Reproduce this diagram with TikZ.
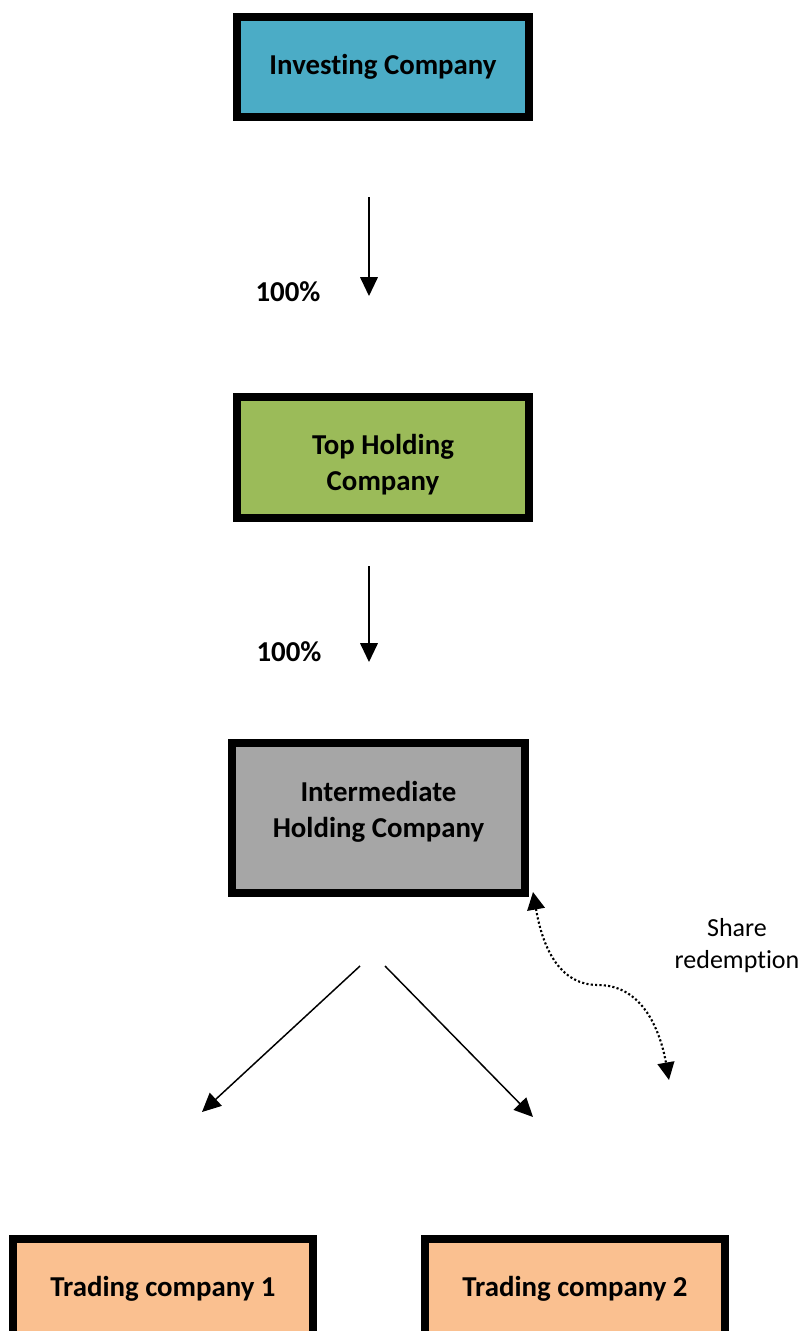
\documentclass[tikz,border=0pt]{standalone}
\usepackage{fontspec}
\setmainfont{Carlito}[Ligatures={NoCommon,NoContextual}, Contextuals=NoAlternate]
\usepackage{xcolor}
\usepackage{tikz}
\usetikzlibrary{arrows.meta,positioning}

\definecolor{investblue}{HTML}{4BACC6}
\definecolor{topgreen}{HTML}{9BBB59}
\definecolor{midgray}{HTML}{A6A6A6}
\definecolor{tradepeach}{HTML}{FAC090}

\begin{document}
\begin{tikzpicture}[
    x=0.025cm, y=-0.025cm,
    company/.style={rectangle, draw=black, line width=0.2cm, fill=#1, minimum width=7.3cm, minimum height=2.5cm, inner sep=0pt, font=\fontsize{20.5}{25.5}\selectfont\bfseries, align=center},
    company/.default=white,
    pct/.style={font=\fontsize{20.5}{25.5}\selectfont\bfseries},
    note/.style={font=\fontsize{18.5}{22.7}\selectfont, align=center},
    own/.style={-{Triangle[length=0.47cm, width=0.44cm]}, line width=1.05pt},
    redeem/.style={{Triangle[length=0.44cm, width=0.44cm]}-{Triangle[length=0.44cm, width=0.42cm]}, line width=1.5pt, dash pattern=on 1.5pt off 1.6pt}
]
    \useasboundingbox (0,0) rectangle (804,1331);
    \clip (0,0) rectangle (804,1331);

    % Ownership chain
    \node[company=investblue] (inv) at (383,67) {Investing Company};
    \node[company=topgreen, minimum height=3.025cm] (top) at (383,457.5) {\rule{0pt}{25pt}Top Holding\\Company};
    \node[company=midgray, minimum width=7.33cm, minimum height=3.75cm] (ihc) at (378.5,818) {Intermediate\\Holding Company\rule[-12pt]{0pt}{0pt}};
    \node[company=tradepeach, minimum width=7.5cm] (tc1) at (163,1289) {Trading company 1};
    \node[company=tradepeach, minimum width=7.5cm] (tc2) at (575,1289) {Trading company 2};

    % Free arrow ends
    \coordinate (a1s) at (369,197);
    \coordinate (a1e) at (369,296);
    \coordinate (a2s) at (369,566);
    \coordinate (a2e) at (369,662);
    \coordinate (d1s) at (360,966);
    \coordinate (d1e) at (202,1112);
    \coordinate (d2s) at (385,966);
    \coordinate (d2e) at (533,1117);
    \coordinate (sr1) at (533,892);
    \coordinate (srm) at (598,985);
    \coordinate (sr2) at (669,1080);

    % Shareholding arrows
    \draw[own] (a1s) -- (a1e);
    \node[pct] (p1) at (288,292) {100\%};
    \draw[own] (a2s) -- (a2e);
    \node[pct] (p2) at (289,652) {100\%};
    \draw[own] (d1s) -- (d1e);
    \draw[own] (d2s) -- (d2e);

    % Redemption loop
    \draw[redeem] (sr1) to[out=-80, in=180] (srm) to[out=0, in=100] (sr2);
    \node[note] (srtxt) at (737,946) {Share\\redemption};
\end{tikzpicture}
\end{document}
